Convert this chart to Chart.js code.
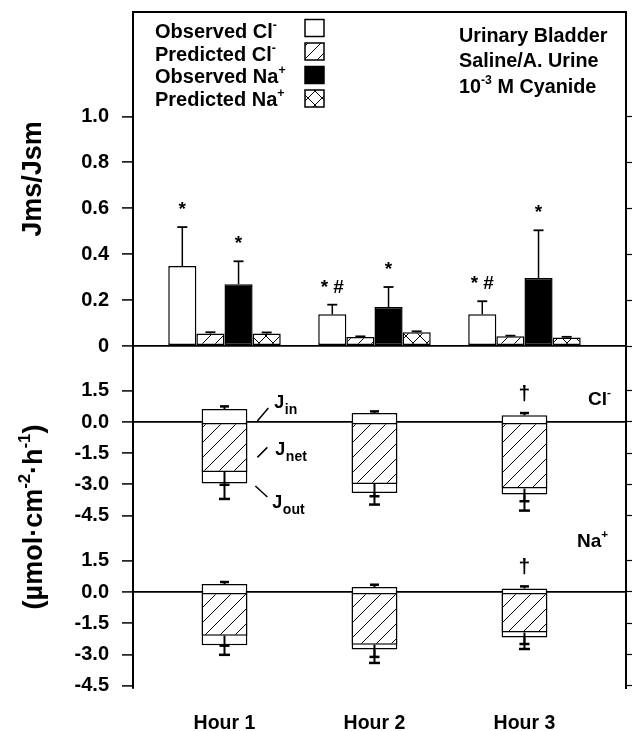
<!DOCTYPE html>
<html>
<head>
<meta charset="utf-8">
<script src="https://cdn.jsdelivr.net/npm/chart.js@4.4.1/dist/chart.umd.min.js"></script>
<style>
  html, body { margin: 0; padding: 0; background: #fff; }
  canvas { display: block; }
</style>
</head>
<body>
<canvas id="c" width="632" height="731"></canvas>
<script>
// ---------- data ----------
const hours = ['Hour 1', 'Hour 2', 'Hour 3'];
const hourPos = [1, 2, 3];

// Top panel: Jms/Jsm ratios (value and upper SEM)
const obsCl     = [0.348, 0.138, 0.138];
const obsClErr  = [0.170, 0.042, 0.057];
const predCl    = [0.054, 0.039, 0.042];
const predClErr = [0.006, 0.003, 0.003];
const obsNa     = [0.269, 0.170, 0.296];
const obsNaErr  = [0.100, 0.087, 0.208];
const predNa    = [0.054, 0.060, 0.037];
const predNaErr = [0.005, 0.004, 0.003];
const obsClMarks = ['*', '* #', '* #'];
const obsNaMarks = ['*', '*', '*'];

// Bottom panels: unidirectional fluxes (µmol·cm⁻²·h⁻¹)
const clJin     = [0.62, 0.43, 0.32];
const clJinErr  = [0.13, 0.08, 0.11];
const clJnet    = [-2.40, -2.98, -3.20];
const clJnetErr = [0.62, 0.59, 0.61];
const clJout    = [2.96, 3.41, 3.49];
const clJoutErr = [0.74, 0.56, 0.77];
const naJin     = [0.38, 0.24, 0.17];
const naJinErr  = [0.10, 0.11, 0.10];
const naJnet    = [-2.10, -2.53, -1.95];
const naJnetErr = [0.48, 0.59, 0.55];
const naJout    = [2.56, 2.77, 2.19];
const naJoutErr = [0.46, 0.64, 0.55];
const clMarks = ['', '', '†'];
const naMarks = ['', '', '†'];

// tick labels
const topTicks  = [0, 0.2, 0.4, 0.6, 0.8, 1.0];
const fluxTicks = [-4.5, -3.0, -1.5, 0, 1.5];

// texts
const legendLabels = ['Observed Cl⁻', 'Predicted Cl⁻', 'Observed Na⁺', 'Predicted Na⁺'];
const infoLines = ['Urinary Bladder', 'Saline/A. Urine', '10⁻³ M Cyanide'];
const panelLabels = ['Cl⁻', 'Na⁺'];
const fluxLabels = [['J', 'in'], ['J', 'net'], ['J', 'out']];
const topTitle = 'Jms/Jsm';
const fluxTitle = '(µmol·cm⁻²·h⁻¹)';

// ---------- helpers ----------
const FAMILY = '"Liberation Sans", Arial, Helvetica, sans-serif';
const bold = s => `bold ${s}px ${FAMILY}`;

function makePattern(size, cross) {
  const c = document.createElement('canvas');
  c.width = c.height = size;
  const g = c.getContext('2d');
  g.fillStyle = '#fff';
  g.fillRect(0, 0, size, size);
  g.strokeStyle = '#000';
  g.lineWidth = 1;
  g.beginPath();
  g.moveTo(0, size); g.lineTo(size, 0);
  g.moveTo(-size / 2, size / 2); g.lineTo(size / 2, -size / 2);
  g.moveTo(size / 2, size * 1.5); g.lineTo(size * 1.5, size / 2);
  if (cross) {
    g.moveTo(0, 0); g.lineTo(size, size);
    g.moveTo(-size / 2, size / 2); g.lineTo(size / 2, size * 1.5);
    g.moveTo(size / 2, -size / 2); g.lineTo(size * 1.5, size / 2);
  }
  g.stroke();
  return g.createPattern(c, 'repeat');
}
const hatchTop = makePattern(13, false);
const crossTop = makePattern(14, true);
const hatchFlux = makePattern(15, false);

const SUP = { '⁻': '-', '⁺': '+', '¹': '1', '²': '2', '³': '3' };
function richParts(str) {
  const parts = [];
  for (const ch of str) {
    const sup = SUP[ch] !== undefined;
    const t = sup ? SUP[ch] : ch;
    const last = parts[parts.length - 1];
    if (last && last.sup === sup) last.t += t; else parts.push({ t, sup });
  }
  return parts;
}
function drawRich(ctx, str, x, y, size, align) {
  const parts = richParts(str);
  let w = 0;
  parts.forEach(p => {
    p.size = p.sup ? size * 0.62 : size;
    ctx.font = bold(p.size);
    p.w = ctx.measureText(p.t).width;
    w += p.w;
  });
  let cx = align === 'center' ? x - w / 2 : align === 'right' ? x - w : x;
  ctx.textAlign = 'left';
  ctx.textBaseline = 'alphabetic';
  parts.forEach(p => {
    ctx.font = bold(p.size);
    ctx.fillText(p.t, cx, p.sup ? y - size * 0.45 : y);
    cx += p.w;
  });
}

// ---------- datasets ----------
const topDs = (label, vals, bg) => ({
  type: 'bar', label, order: 0,
  data: hourPos.map((x, i) => ({ x, y: vals[i] })),
  xAxisID: 'x', yAxisID: 'yTop',
  backgroundColor: bg, borderColor: '#000', borderWidth: 1.5, borderSkipped: false,
  categoryPercentage: 0.75, barPercentage: 1, grouped: true
});
const fluxBox = (label, jin, jout, yId) => ({
  type: 'bar', label, order: 2,
  data: hourPos.map((x, i) => ({ x, y: [-jout[i], jin[i]] })),
  xAxisID: 'x', yAxisID: yId,
  backgroundColor: '#fff', borderColor: '#000', borderWidth: 1.5, borderSkipped: false,
  grouped: false, categoryPercentage: 1, barPercentage: 0.305
});
const fluxNet = (label, jnet, yId) => ({
  type: 'bar', label, order: 1,
  data: hourPos.map((x, i) => ({ x, y: [jnet[i], 0] })),
  xAxisID: 'x', yAxisID: yId,
  backgroundColor: hatchFlux, borderColor: '#000', borderWidth: 1.5, borderSkipped: false,
  grouped: false, categoryPercentage: 1, barPercentage: 0.305
});

const datasets = [
  topDs(legendLabels[0], obsCl, '#fff'),
  topDs(legendLabels[1], predCl, hatchTop),
  topDs(legendLabels[2], obsNa, '#000'),
  topDs(legendLabels[3], predNa, crossTop),
  fluxBox('Cl⁻ Jin / Jout', clJin, clJout, 'yCl'),
  fluxNet('Cl⁻ Jnet', clJnet, 'yCl'),
  fluxBox('Na⁺ Jin / Jout', naJin, naJout, 'yNa'),
  fluxNet('Na⁺ Jnet', naJnet, 'yNa')
];

// ---------- scales ----------
const tickFont = { family: FAMILY, size: 20, weight: 'bold' };
const fmtTop = v => (v === 0 ? '0' : v.toFixed(1));
const fmtFlux = v => v.toFixed(1);

function leftAxis(ticksArr, min, max, weight, stackWeight, fmt, title) {
  return {
    type: 'linear', position: 'left', stack: 'L', stackWeight, weight, min, max,
    afterBuildTicks: s => { s.ticks = ticksArr.map(v => ({ value: v })); },
    afterFit: s => { s.width = 133; s.paddingTop = 0; s.paddingBottom = 0; },
    ticks: { autoSkip: false, callback: fmt, color: '#000', font: tickFont, padding: 13 },
    grid: {
      color: c => (c.tick && c.tick.value === 0 ? '#000' : 'rgba(0,0,0,0)'),
      lineWidth: 1.8, tickColor: '#000', tickWidth: 1.5, tickLength: 11
    },
    border: { display: true, color: '#000', width: 2 },
    title: title || { display: false }
  };
}
function rightAxis(ticksArr, min, max, weight, stackWeight) {
  return {
    type: 'linear', position: 'right', stack: 'R', stackWeight, weight, min, max,
    afterBuildTicks: s => { s.ticks = ticksArr.map(v => ({ value: v })); },
    afterFit: s => { s.width = 6; s.paddingTop = 0; s.paddingBottom = 0; },
    ticks: { display: false },
    grid: { drawOnChartArea: false, tickLength: 6, color: '#000', tickColor: '#000', tickWidth: 1.2 },
    border: { display: true, color: '#000', width: 2 }
  };
}

const xMin = 0.39, xMax = 3.677;
const topRange = [0, 1.455];
const clRange = [-5.53, 3.654];
const naRange = [-4.615, 2.644];

const scales = {
  x: {
    type: 'linear', position: 'bottom', min: xMin, max: xMax, offset: false,
    afterBuildTicks: s => { s.ticks = hourPos.map(v => ({ value: v })); },
    afterFit: s => { s.height = 43; s.paddingLeft = 0; s.paddingRight = 0; },
    ticks: { autoSkip: false, maxRotation: 0, color: '#000',
             font: { family: FAMILY, size: 19.5, weight: 'bold' }, padding: 24,
             callback: v => hours[hourPos.indexOf(v)] },
    grid: { display: false, drawTicks: false, offset: false },
    border: { display: false }
  },
  xTop: {
    type: 'linear', position: 'top', min: xMin, max: xMax, offset: false,
    afterFit: s => { s.height = 0; },
    ticks: { display: false },
    grid: { display: false, drawTicks: false },
    border: { display: true, color: '#000', width: 2 }
  },
  yTop: leftAxis(topTicks, topRange[0], topRange[1], 3, 334, fmtTop, {
    display: true, text: topTitle, color: '#000',
    font: { family: FAMILY, size: 27, weight: 'bold' }, padding: { top: 17, bottom: 0 }
  }),
  yCl: leftAxis(fluxTicks, clRange[0], clRange[1], 2, 191, fmtFlux),
  yNa: leftAxis(fluxTicks, naRange[0], naRange[1], 1, 151, fmtFlux),
  yTopR: rightAxis(topTicks, topRange[0], topRange[1], 1, 334),
  yClR: rightAxis(fluxTicks, clRange[0], clRange[1], 2, 191),
  yNaR: rightAxis(fluxTicks, naRange[0], naRange[1], 3, 151)
};

// ---------- annotation plugin ----------
const annot = {
  id: 'annot',
  afterDatasetsDraw(chart) {
    const { ctx, scales: S, chartArea: A } = chart;
    const yT = S.yTop, yC = S.yCl, yN = S.yNa;
    ctx.save();
    ctx.strokeStyle = '#000';
    ctx.fillStyle = '#000';
    const line = (x0, y0, x1, y1, lw) => {
      ctx.lineWidth = lw; ctx.beginPath(); ctx.moveTo(x0, y0); ctx.lineTo(x1, y1); ctx.stroke();
    };
    const errBar = (x, yFrom, yTo, capW, lw, capLw) => {
      line(x, yFrom, x, yTo, lw);
      line(x - capW / 2, yTo, x + capW / 2, yTo, capLw);
    };

    // top panel error bars + significance marks
    const topSets = [
      [obsCl, obsClErr, obsClMarks], [predCl, predClErr, null],
      [obsNa, obsNaErr, obsNaMarks], [predNa, predNaErr, null]
    ];
    topSets.forEach((s, di) => {
      const meta = chart.getDatasetMeta(di);
      s[0].forEach((v, i) => {
        const el = meta.data[i];
        const yTopPix = yT.getPixelForValue(v + s[1][i]);
        errBar(el.x, yT.getPixelForValue(v), yTopPix, 10, 1.5, 1.8);
        if (s[2] && s[2][i]) {
          ctx.font = bold(19);
          ctx.textAlign = 'center';
          ctx.textBaseline = 'alphabetic';
          ctx.fillText(s[2][i], el.x, yTopPix - 12);
        }
      });
    });

    // flux panels error bars
    const panels = [
      [yC, clJin, clJinErr, clJnet, clJnetErr, clJout, clJoutErr, clMarks, 4],
      [yN, naJin, naJinErr, naJnet, naJnetErr, naJout, naJoutErr, naMarks, 6]
    ];
    panels.forEach(p => {
      const [ys, jin, jinE, jnet, jnetE, jout, joutE, marks, di] = p;
      const meta = chart.getDatasetMeta(di);
      hourPos.forEach((h, i) => {
        const x = meta.data[i].x;
        errBar(x, ys.getPixelForValue(jin[i]), ys.getPixelForValue(jin[i] + jinE[i]), 9, 2, 2.5);
        errBar(x, ys.getPixelForValue(jnet[i]), ys.getPixelForValue(jnet[i] - jnetE[i]), 10, 2, 2.5);
        errBar(x, ys.getPixelForValue(-jout[i]), ys.getPixelForValue(-jout[i] - joutE[i]), 11, 2, 2.5);
        if (marks[i]) {
          ctx.font = bold(21);
          ctx.textAlign = 'center';
          ctx.textBaseline = 'alphabetic';
          ctx.fillText(marks[i], x, ys.getPixelForValue(jin[i] + jinE[i]) - 13);
        }
      });
    });

    // J labels with leader lines (Hour 1, Cl⁻)
    const box = chart.getDatasetMeta(4).data[0];
    const bR = box.x + box.width / 2;
    const anchors = [0, -1.7, -3.08];
    const ends = [[10, -1, 21, -14], [10, 0, 20, -10], [8, 0, 20, 11]];
    const textDx = [27, 28, 25];
    const textDy = [-14, -2, 22];
    fluxLabels.forEach((lab, k) => {
      const y0 = yC.getPixelForValue(anchors[k]);
      const e = ends[k];
      line(bR + e[0], y0 + e[1], bR + e[2], y0 + e[3], 1.5);
      const tx = bR + textDx[k], ty = y0 + textDy[k];
      ctx.textAlign = 'left';
      ctx.textBaseline = 'alphabetic';
      ctx.font = bold(18);
      ctx.fillText(lab[0], tx, ty);
      const w = ctx.measureText(lab[0]).width;
      ctx.font = bold(14);
      ctx.fillText(lab[1], tx + w + 0.5, ty + 6);
    });

    // panel labels
    drawRich(ctx, panelLabels[0], 588, yC.getPixelForValue(0) - 17, 19, 'left');
    drawRich(ctx, panelLabels[1], 577, 547, 19, 'left');

    // legend (inside plot, text then swatch)
    for (let i = 0; i < 4; i++) {
      const ds = chart.data.datasets[i];
      ctx.fillStyle = '#000';
      drawRich(ctx, ds.label, A.left + 22, A.top + 25.7 + i * 22.8, 20, 'left');
      const bx = A.left + 172, by = A.top + 7.5 + i * 23.5;
      ctx.fillStyle = ds.backgroundColor;
      ctx.fillRect(bx, by, 19, 17);
      ctx.lineWidth = 1.5;
      ctx.strokeStyle = '#000';
      ctx.strokeRect(bx, by, 19, 17);
    }
    ctx.fillStyle = '#000';

    // condition text
    const infoY = [42, 67, 93];
    infoLines.forEach((t, i) => drawRich(ctx, t, 459, infoY[i], 19.8, 'left'));

    // bottom y-axis title spanning both flux panels
    ctx.save();
    ctx.translate(33, (yC.top + yN.bottom) / 2);
    ctx.rotate(-Math.PI / 2);
    drawRich(ctx, fluxTitle, 0, 9, 27, 'center');
    ctx.restore();

    ctx.restore();
  }
};

new Chart(document.getElementById('c'), {
  type: 'bar',
  data: { datasets },
  options: {
    responsive: false,
    animation: false,
    devicePixelRatio: 1,
    layout: { padding: { top: 12, left: 0, right: 0, bottom: 0 } },
    plugins: { legend: { display: false }, tooltip: { enabled: false } },
    scales
  },
  plugins: [annot]
});
</script>
</body>
</html>
